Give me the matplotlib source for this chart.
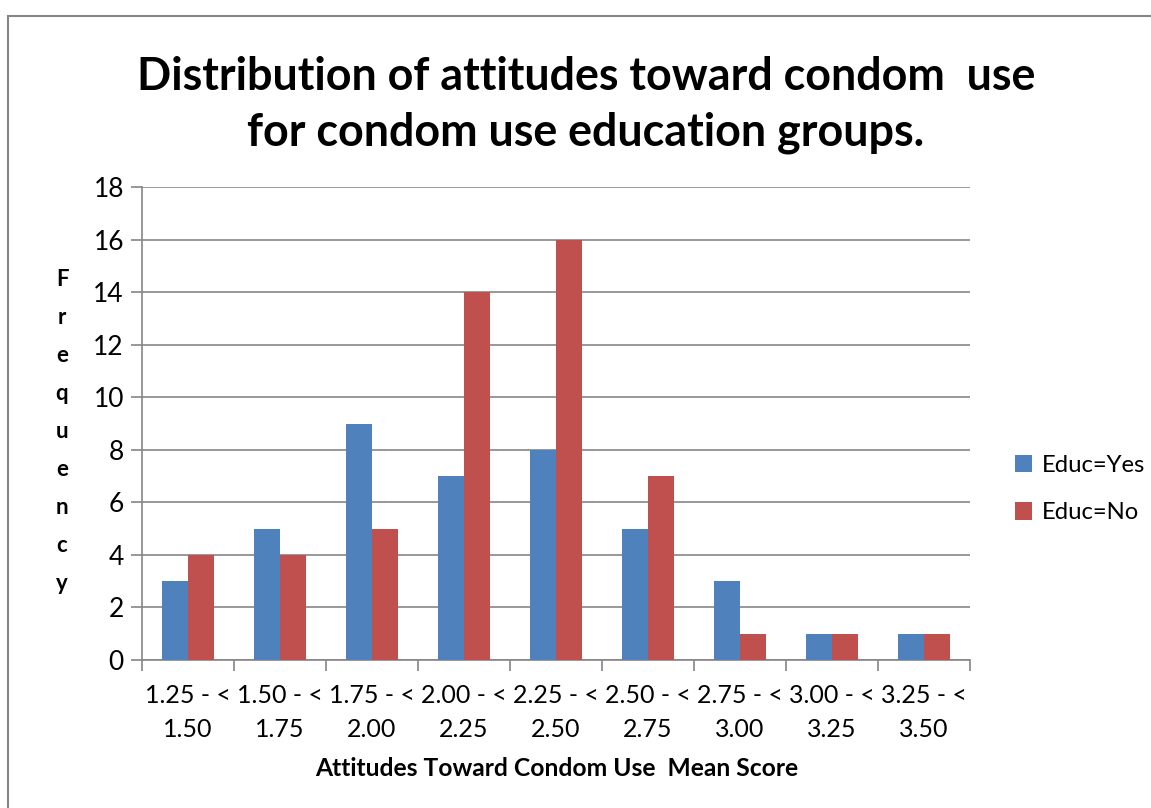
import matplotlib.pyplot as plt
import numpy as np
from matplotlib.patches import Rectangle

plt.rcParams['font.family'] = ['Lato', 'DejaVu Sans']

categories = ["1.25 - <\n1.50", "1.50 - <\n1.75", "1.75 - <\n2.00", "2.00 - <\n2.25",
              "2.25 - <\n2.50", "2.50 - <\n2.75", "2.75 - <\n3.00", "3.00 - <\n3.25",
              "3.25 - <\n3.50"]
educ_yes = [3, 5, 9, 7, 8, 5, 3, 1, 1]
educ_no = [4, 4, 5, 14, 16, 7, 1, 1, 1]

W, H = 1151, 808
fig = plt.figure(figsize=(W / 100, H / 100), dpi=100)

# outer chart border (Excel style)
fig.patches.append(Rectangle((8 / W, -0.1), 1.2, 1 - 16 / H + 0.1, transform=fig.transFigure,
                             fill=False, edgecolor='#868686', linewidth=1.5))

ax = fig.add_axes([142 / W, 1 - 660 / H, (970 - 142) / W, (660 - 187) / H])

x = np.arange(len(categories))
bw = 1 / 3.5
ax.bar(x - bw / 2, educ_yes, bw, color='#4F81BD', label='Educ=Yes', zorder=3)
ax.bar(x + bw / 2, educ_no, bw, color='#C0504D', label='Educ=No', zorder=3)

ax.set_xlim(-0.5, len(categories) - 0.5)
ax.set_ylim(0, 18)
ax.set_yticks(range(0, 19, 2))
ax.yaxis.grid(True, color='#868686', linewidth=1.2, zorder=0)
ax.set_xticks(np.arange(len(categories) + 1) - 0.5)
ax.set_xticklabels([])
ax.set_xticks(x, minor=True)
ax.set_xticklabels(categories, minor=True, fontsize=18, linespacing=1.62)
ax.tick_params(axis='x', which='minor', length=0, pad=17)
ax.tick_params(axis='x', which='major', length=8, color='#868686', width=1.2)
ax.tick_params(axis='y', length=8, color='#868686', width=1.2, labelsize=19, pad=5)

for s in ['top', 'right']:
    ax.spines[s].set_visible(False)
for s in ['left', 'bottom']:
    ax.spines[s].set_color('#868686')
    ax.spines[s].set_linewidth(1.2)

fig.text(586 / W, 1 - 105 / H, "Distribution of attitudes toward condom  use\nfor condom use education groups.",
         ha='center', va='center', fontsize=32.3, fontweight='bold', linespacing=1.4)

fig.text(62 / W, 1 - 431 / H, "\n".join("Frequency"), ha='center', va='center',
         fontsize=16, fontweight='bold', linespacing=2.0)

fig.text(557 / W, 1 - 769 / H, "Attitudes Toward Condom Use  Mean Score", ha='center', va='center',
         fontsize=17.7, fontweight='bold')

fig.legend(loc='center left', bbox_to_anchor=(993 / W, 1 - 489 / H), frameon=False,
           fontsize=17.2, handlelength=0.75, handleheight=0.75, labelspacing=1.1, handletextpad=0.4)

fig.savefig('out.png', dpi=100)
